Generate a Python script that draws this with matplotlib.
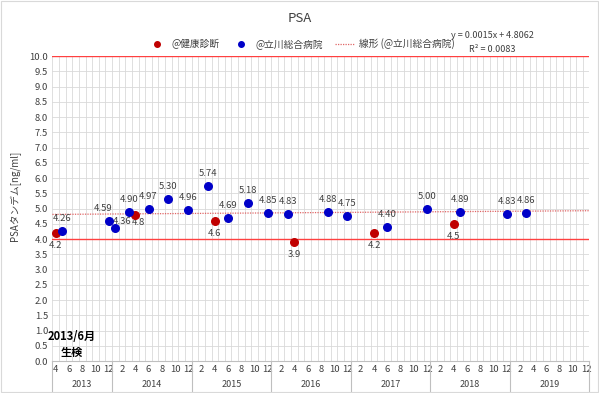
import numpy as np
import matplotlib.pyplot as plt
import matplotlib.transforms as mtrans
from matplotlib.lines import Line2D
from matplotlib.patches import Rectangle

plt.rcParams["font.family"] = ["Noto Sans CJK JP", "DejaVu Sans"]

# =========================
# Data (month index: 0 = 2013/4)
# =========================
start_year = 2013
start_month = 4
n_months = 81

checkup_idx = [0, 12, 24, 36, 48, 60]
checkup_psa = [4.2, 4.8, 4.6, 3.9, 4.2, 4.5]

hospital_idx = [1, 8, 9, 11, 14, 17, 20, 23, 26, 29, 32, 35, 41, 44, 50, 56, 61, 68, 71]
hospital_psa = [4.26, 4.59, 4.36, 4.90, 4.97, 5.30, 4.96, 5.74, 4.69, 5.18,
                4.85, 4.83, 4.88, 4.75, 4.40, 5.00, 4.89, 4.83, 4.86]

trend_slope = 0.0015
trend_icpt = 4.8062
trend_r2 = 0.0083
limit_lines = [4.0, 10.0]

RED = "#C00000"
BLUE = "#0000C8"
GRID = "#D9D9D9"
TXT = "#404040"

# =========================
# Figure
# =========================
fig = plt.figure(figsize=(5.99, 3.93), dpi=100)
ax = fig.add_axes([0.0875, 0.0814, 0.8965, 0.776])
ax.set_xlim(-0.5, n_months - 0.5)
ax.set_ylim(0, 10)

# grid
yt = np.arange(0, 10.01, 0.5)
ax.set_yticks(yt)
ax.set_yticklabels([f"{v:.1f}" for v in yt], fontsize=6.8, color=TXT)
for b in np.arange(-0.5, n_months, 1.0):
    ax.axvline(b, color=GRID, lw=0.6, zorder=0)
for v in yt:
    ax.axhline(v, color=GRID, lw=0.6, zorder=0)

for sp in ax.spines.values():
    sp.set_visible(False)
ax.spines["bottom"].set_visible(True)
ax.spines["bottom"].set_color("#BFBFBF")
ax.spines["bottom"].set_linewidth(0.8)

# month ticks every 2 months
tick_idx = list(range(0, n_months, 2))
tick_lbl = [str((start_month - 1 + i) % 12 + 1) for i in tick_idx]
ax.set_xticks(tick_idx)
ax.set_xticklabels(tick_lbl, fontsize=6.8, color=TXT)
ax.tick_params(axis="both", length=0, pad=3)

# year labels and separators
tr = mtrans.blended_transform_factory(ax.transData, ax.transAxes)
bounds = [-0.5]
for i in range(n_months):
    m = (start_month - 1 + i) % 12 + 1
    if m == 12:
        bounds.append(i + 0.5)
years = list(range(start_year, start_year + len(bounds) - 1))
for k, yr in enumerate(years):
    ax.text((bounds[k] + bounds[k + 1]) / 2, -0.077, str(yr), transform=tr,
            ha="center", va="center", fontsize=6.5, color=TXT)
for b in bounds:
    ax.add_line(Line2D([b, b], [0, -0.1], transform=tr, color="#BFBFBF",
                       lw=0.8, clip_on=False))

# limit lines
for v in limit_lines:
    ax.axhline(v, color="#FF4040", lw=1.0, zorder=2)

# trend line
tx = np.array([-0.5, n_months - 0.5])
ax.plot(tx, trend_icpt + trend_slope * (tx + 1), color="#E06666", lw=0.9,
        ls=(0, (1, 1)), zorder=2)

# points
ax.scatter(checkup_idx, checkup_psa, s=30, color=RED, zorder=4)
ax.scatter(hospital_idx, hospital_psa, s=30, color=BLUE, zorder=4)

# data labels
red_special = {12: (2, -6)}
for x, y in zip(checkup_idx, checkup_psa):
    off = red_special.get(x, (0, -9))
    ax.annotate(f"{y:.1f}", (x, y), xytext=off, textcoords="offset points",
                ha="center", va="center", fontsize=6.8, color=TXT)
blue_special = {8: (-4, 9), 9: (4.5, 4.5)}
for x, y in zip(hospital_idx, hospital_psa):
    off = blue_special.get(x, (0, 9))
    ax.annotate(f"{y:.2f}", (x, y), xytext=off, textcoords="offset points",
                ha="center", va="center", fontsize=6.8, color=TXT)

ax.set_ylabel("PSAタンデム[ng/ml]", fontsize=7, color=TXT)
ax.yaxis.set_label_coords(-0.058, 0.54)

# annotation
ax.text(-1.3, 0.8, "2013/6月", fontsize=8, fontweight="bold", ha="left", va="center", color="black")
ax.text(0.7, 0.28, "生検", fontsize=8, fontweight="bold", ha="left", va="center", color="black")

# title and legend
fig.text(0.5, 1 - 18 / 393, "PSA", ha="center", va="center", fontsize=9.5, color=TXT)
handles = [
    Line2D([], [], ls="none", marker="o", ms=4, color=RED),
    Line2D([], [], ls="none", marker="o", ms=4, color=BLUE),
    Line2D([], [], color="#E06666", lw=0.9, ls=(0, (1, 1))),
]
labels = ["@健康診断", "@立川総合病院", "線形 (@立川総合病院)"]
fig.legend(handles, labels, loc="center", bbox_to_anchor=(301 / 599, 1 - 44 / 393),
           ncol=3, frameon=False, fontsize=7, handlelength=2.0, handletextpad=0.5,
           columnspacing=1.2, labelcolor=TXT)
fig.text(492 / 599, 1 - 36 / 393, f"y = {trend_slope}x + {trend_icpt}", ha="center",
         va="center", fontsize=6.5, color=TXT)
fig.text(492 / 599, 1 - 50 / 393, f"R² = {trend_r2}", ha="center", va="center",
         fontsize=6.5, color=TXT)

fig.patches.append(Rectangle((0.002, 0.002), 0.996, 0.996, transform=fig.transFigure,
                             fill=False, ec="#D9D9D9", lw=0.8))

fig.savefig("out.png", dpi=100)
